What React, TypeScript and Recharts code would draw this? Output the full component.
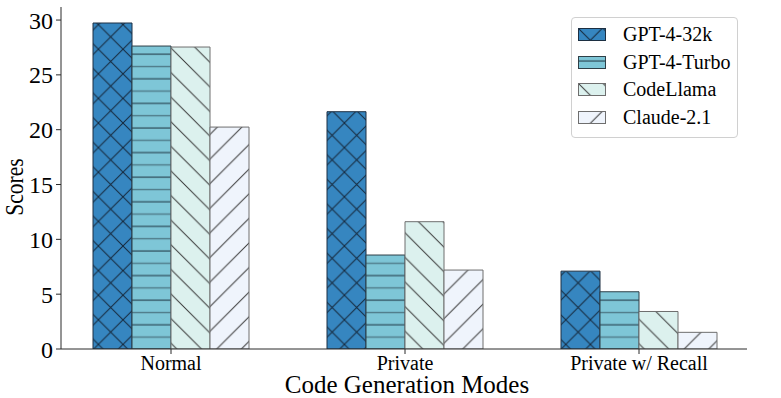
import React from 'react';
import { BarChart, Bar, XAxis, YAxis, Legend } from 'recharts';

const modes = ['Normal', 'Private', 'Private w/ Recall'];
const gpt432k = [29.73, 21.64, 7.1];
const gpt4Turbo = [27.63, 8.57, 5.22];
const codeLlama = [27.54, 11.61, 3.42];
const claude21 = [20.24, 7.2, 1.52];
const yTicks = [0, 5, 10, 15, 20, 25, 30];

const seriesNames = ['GPT-4-32k', 'GPT-4-Turbo', 'CodeLlama', 'Claude-2.1'];
const seriesPatterns = ['hatch-32k', 'hatch-turbo', 'hatch-llama', 'hatch-claude'];
const seriesEdges = ['#1c2f42', '#2e3f47', '#6e6e6e', '#6e6e6e'];

const chartData = modes.map((mode, i) => ({
  mode,
  'GPT-4-32k': gpt432k[i],
  'GPT-4-Turbo': gpt4Turbo[i],
  'CodeLlama': codeLlama[i],
  'Claude-2.1': claude21[i],
}));

const FONT = '"Liberation Serif", "Times New Roman", serif';
const AXIS = '#2a2a2a';
const H = 24.6; // hatch spacing

const Patterns = () => (
  <defs>
    <pattern id="hatch-32k" patternUnits="userSpaceOnUse" width={H} height={H}>
      <rect width={H} height={H} fill="#3686c0" />
      <path d={`M0,0 L${H},${H} M${H},0 L0,${H}`} stroke="#15273a" strokeWidth={1} />
    </pattern>
    <pattern id="hatch-turbo" patternUnits="userSpaceOnUse" width={10} height={H}>
      <rect width={10} height={H} fill="#7ec6d7" />
      <line x1={0} x2={10} y1={5} y2={5} stroke="#2c4a57" strokeWidth={1.2} />
      <line x1={0} x2={10} y1={5 + H / 2} y2={5 + H / 2} stroke="#4f7b89" strokeWidth={1.4} />
    </pattern>
    <pattern id="hatch-llama" patternUnits="userSpaceOnUse" width={H} height={H}>
      <rect width={H} height={H} fill="#dcf1ee" />
      <path
        d={`M0,0 L${H},${H} M${-H / 4},${(3 * H) / 4} L${H / 4},${(5 * H) / 4} M${(3 * H) / 4},${-H / 4} L${(5 * H) / 4},${H / 4}`}
        stroke="#3a3a3a"
        strokeWidth={1}
      />
    </pattern>
    <pattern id="hatch-claude" patternUnits="userSpaceOnUse" width={H} height={H}>
      <rect width={H} height={H} fill="#eff4fc" />
      <path
        d={`M0,${H} L${H},0 M${-H / 4},${H / 4} L${H / 4},${-H / 4} M${(3 * H) / 4},${(5 * H) / 4} L${(5 * H) / 4},${(3 * H) / 4}`}
        stroke="#3a3a3a"
        strokeWidth={1}
      />
    </pattern>
  </defs>
);

const YLabel = ({ viewBox }: any) => {
  const cy = viewBox ? viewBox.y + viewBox.height / 2 + 9 : 187;
  return (
    <text
      x={0}
      y={0}
      transform={`translate(14 ${cy}) rotate(-90) scale(0.86 1)`}
      textAnchor="middle"
      dominantBaseline="central"
      fontFamily={FONT}
      style={{ fontFamily: FONT }}
      fontSize={25}
      fill="#000"
    >
      Scores
    </text>
  );
};

const XLabel = ({ viewBox }: any) => {
  const cx = viewBox ? viewBox.x + viewBox.width / 2 + 3 : 407;
  return (
    <text x={cx} y={393} textAnchor="middle" fontFamily={FONT} style={{ fontFamily: FONT }} fontSize={25} fill="#000">
      Code Generation Modes
    </text>
  );
};

const renderLegend = () => (
  <div
    style={{
      boxSizing: 'border-box',
      width: 167,
      height: 121,
      border: '1px solid #d0d0d0',
      borderRadius: 4,
      background: 'rgba(255,255,255,0.85)',
      padding: '3px 0 0 6px',
      fontFamily: FONT,
      fontSize: 20,
      color: '#000',
    }}
  >
    {seriesNames.map((name, i) => (
      <div key={name} style={{ display: 'flex', alignItems: 'center', height: 27.5 }}>
        <svg width={28} height={13} style={{ flex: 'none' }}>
          <rect x={0.5} y={0.5} width={27} height={12} fill={`url(#${seriesPatterns[i]})`} stroke={seriesEdges[i]} />
        </svg>
        <span style={{ marginLeft: 17, lineHeight: '27px' }}>{name}</span>
      </div>
    ))}
  </div>
);

const App: React.FC = () => {
  return (
    <div style={{ position: 'absolute', left: 0, top: 0, width: 781, height: 398, background: '#fff' }}>
      <BarChart
        width={781}
        height={398}
        data={chartData}
        margin={{ top: 7, right: 34, left: 11, bottom: 19 }}
        barCategoryGap={39}
        barGap={0}
      >
        <Patterns />
        <XAxis
          dataKey="mode"
          height={30}
          padding={{ left: -7, right: -9 }}
          tickSize={5}
          tickMargin={2}
          stroke={AXIS}
          fontSize={20}
          fontFamily={FONT}
          tick={{ fontFamily: FONT, fontSize: 20, fill: '#000', style: { fontFamily: FONT } }}
          label={<XLabel />}
        />
        <XAxis xAxisId="top" dataKey="mode" orientation="top" height={0} tick={false} tickLine={false} stroke={AXIS} />
        <YAxis
          width={50}
          domain={[0, 31.19]}
          ticks={yTicks}
          allowDataOverflow
          tickSize={5}
          tickMargin={3}
          stroke={AXIS}
          fontSize={24}
          fontFamily={FONT}
          tick={{ fontFamily: FONT, fontSize: 24, fill: '#000', style: { fontFamily: FONT } }}
          label={<YLabel />}
        />
        <YAxis yAxisId="right" orientation="right" width={0} tick={false} tickLine={false} stroke={AXIS} domain={[0, 31.19]} />
        <Legend
          layout="vertical"
          align="center"
          verticalAlign="middle"
          content={renderLegend}
          wrapperStyle={{ position: 'absolute', left: 571, top: 17, width: 167, height: 121 }}
        />
        {seriesNames.map((name, i) => (
          <Bar
            key={name}
            dataKey={name}
            fill={`url(#${seriesPatterns[i]})`}
            stroke={seriesEdges[i]}
            strokeWidth={1}
            isAnimationActive={false}
          />
        ))}
      </BarChart>
    </div>
  );
};

export default App;
